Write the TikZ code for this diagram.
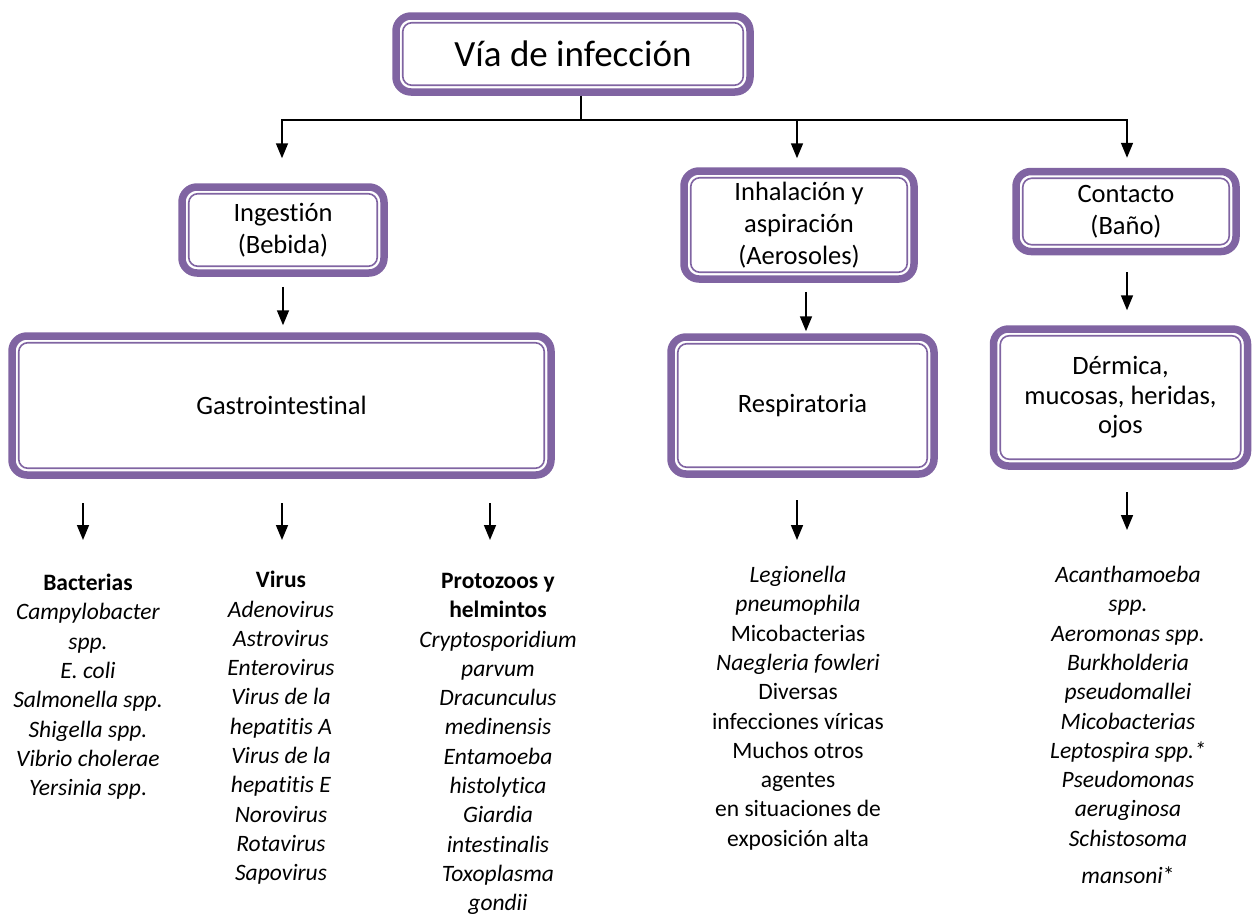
\documentclass[tikz,border=0pt]{standalone}
\usepackage{fontspec}
\setmainfont{Carlito}[Ligatures=NoCommon]
\usetikzlibrary{arrows.meta}
\definecolor{vpurple}{HTML}{8064A2}

\begin{document}
\begin{tikzpicture}[x=1pt, y=-1pt, >={Triangle[width=12pt,length=15pt]},
  viabox/.style={draw=vpurple, line width=7.5pt, rounded corners=15pt, fill=white, align=center, inner sep=0pt, font=\fontsize{26.5}{32}\selectfont},
  inframe/.style={draw=vpurple, line width=1.6pt, rounded corners=9pt},
  linea/.style={line width=1.6pt},
  flecha/.style={->, line width=1.6pt},
  lista/.style={align=center, anchor=north, inner sep=0pt, font=\fontsize{23.5}{29.3}\selectfont}]

\useasboundingbox (0,0) rectangle (1254,919);

% cajas
\node[viabox, minimum width=354pt, minimum height=76pt, font=\fontsize{37}{40}\selectfont] (via) at (573,54) {Vía de infección};
\node[viabox, minimum width=202pt, minimum height=86pt] (ingestion) at (283,230) {Ingestión\\(Bebida)};
\node[viabox, minimum width=230pt, minimum height=108pt] (inhalacion) at (799,225) {Inhalación y\\aspiración\\(Aerosoles)};
\node[viabox, minimum width=220pt, minimum height=80pt] (contacto) at (1126,211.5) {Contacto\\(Baño)};
\node[viabox, minimum width=539pt, minimum height=139pt] (gastro) at (281.5,405.5) {Gastrointestinal};
\node[viabox, minimum width=263pt, minimum height=137pt] (resp) at (802.5,405.5) {Respiratoria};
\node[viabox, minimum width=254pt, minimum height=137pt, font=\fontsize{26.5}{29.5}\selectfont] (dermica) at (1120.5,397.5) {Dérmica,\\mucosas, heridas,\\ojos};

\foreach \n in {via,ingestion,inhalacion,contacto,gastro,resp,dermica}
  \draw[inframe] ([shift={(10.5pt,-10.5pt)}]\n.north west) rectangle ([shift={(-10.5pt,10.5pt)}]\n.south east);

% ramas
\coordinate (ramaI) at (282,120);
\coordinate (ramaR) at (797,120);
\coordinate (ramaC) at (1127,120);
\draw[linea] ([xshift=8pt]via.south) -- ([xshift=8pt]via.south |- ramaI);
\draw[linea] ([xshift=-1pt]ramaI) -- ([xshift=1pt]ramaC);
\draw[flecha] (ramaI) -- ([yshift=25pt]ingestion.north -| ramaI);
\draw[flecha] (ramaR) -- ([yshift=9pt]inhalacion.north -| ramaR);
\draw[flecha] (ramaC) -- ([yshift=10pt]contacto.north -| ramaC);

\draw[flecha] ([yshift=-10pt]ingestion.south) -- ([yshift=7pt]gastro.north -| ingestion.south);
\draw[flecha] ([xshift=7pt, yshift=-9pt]inhalacion.south) -- ([xshift=7pt, yshift=2pt]resp.north -| inhalacion.south);
\draw[flecha] ([xshift=1pt, yshift=-17pt]contacto.south) -- ([xshift=1pt, yshift=15pt]dermica.north -| contacto.south);

% listas
\node[lista] (bacterias) at (88,574) {\textbf{Bacterias}\\\textit{Campylobacter}\\\textit{spp.}\\\textit{E. coli}\\\textit{Salmonella spp.}\\\textit{Shigella spp.}\\\textit{Vibrio cholerae}\\\textit{Yersinia spp}.};
\node[lista] (virus) at (281,571) {\textbf{Virus}\\\textit{Adenovirus}\\\textit{Astrovirus}\\\textit{Enterovirus}\\\textit{Virus de la}\\\textit{hepatitis A}\\\textit{Virus de la}\\\textit{hepatitis E}\\\textit{Norovirus}\\\textit{Rotavirus}\\\textit{Sapovirus}};
\node[lista] (protozoos) at (498,573) {\textbf{Protozoos y}\\\textbf{helmintos}\\\textit{Cryptosporidium}\\\textit{parvum}\\\textit{Dracunculus}\\\textit{medinensis}\\\textit{Entamoeba}\\\textit{histolytica}\\\textit{Giardia}\\\textit{intestinalis}\\\textit{Toxoplasma}\\\textit{gondii}};
\node[lista] (listaresp) at (798,566) {\textit{Legionella}\\\textit{pneumophila}\\Micobacterias\\\textit{Naegleria fowleri}\\Diversas\\infecciones víricas\\Muchos otros\\agentes\\en situaciones de\\exposición alta};
\node[lista] (listacont) at (1128,566) {\textit{Acanthamoeba}\\\textit{spp.}\\\textit{Aeromonas spp.}\\\textit{Burkholderia}\\\textit{pseudomallei}\\\textit{Micobacterias}\\\textit{Leptospira spp.*}\\\textit{Pseudomonas}\\\textit{aeruginosa}\\\textit{Schistosoma}\\[8pt]\textit{mansoni}*};

\coordinate (gA1) at (83,503);  \coordinate (gA2) at (83,540);
\coordinate (gB1) at (282,503); \coordinate (gB2) at (282,540);
\coordinate (gC1) at (490,503); \coordinate (gC2) at (490,540);
\coordinate (rA1) at (797,500); \coordinate (rA2) at (797,540);
\coordinate (dA1) at (1127,492); \coordinate (dA2) at (1127,530);
\foreach \a/\b in {gA1/gA2,gB1/gB2,gC1/gC2,rA1/rA2,dA1/dA2}
  \draw[flecha] (\a) -- (\b);

\end{tikzpicture}
\end{document}
